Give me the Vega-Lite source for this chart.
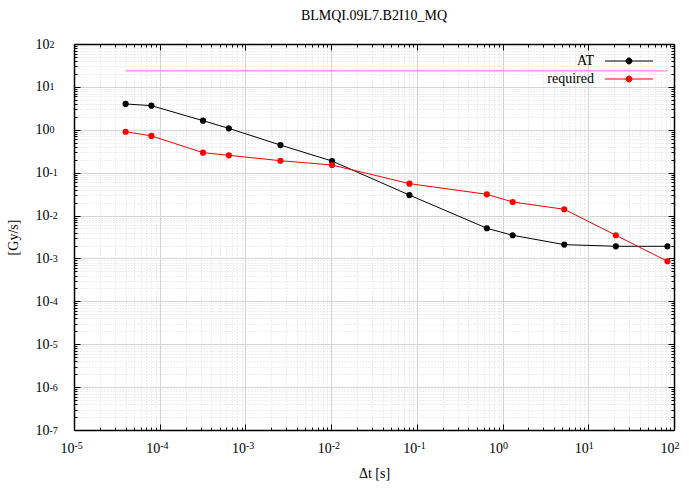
{
  "$schema": "https://vega.github.io/schema/vega-lite/v6.json",
  "width": 600,
  "height": 386,
  "autosize": "none",
  "padding": {"left": 74, "top": 44, "right": 15, "bottom": 58},
  "background": "white",
  "title": {"text": "BLMQI.09L7.B2I10_MQ", "font": "Liberation Serif", "fontSize": 14, "fontWeight": "normal", "color": "black", "offset": 14},
  "config": {
    "view": {"stroke": null},
    "axis": {
      "labelFont": "Liberation Serif", "labelFontSize": 14, "labelColor": "black",
      "titleFont": "Liberation Serif", "titleFontSize": 14, "titleFontWeight": "normal", "titleColor": "black",
      "domainColor": "black", "domainWidth": 1.5, "tickColor": "black", "tickWidth": 1,
      "labelOverlap": false, "labelFlush": false
    }
  },
  "datasets": {
    "rs": [
      {"t": 4e-5, "v": 4.0, "series": "AT"},
      {"t": 8e-5, "v": 3.65, "series": "AT"},
      {"t": 3.2e-4, "v": 1.63, "series": "AT"},
      {"t": 6.4e-4, "v": 1.08, "series": "AT"},
      {"t": 2.56e-3, "v": 0.44, "series": "AT"},
      {"t": 1.024e-2, "v": 0.187, "series": "AT"},
      {"t": 8.192e-2, "v": 0.030, "series": "AT"},
      {"t": 0.65536, "v": 5.06e-3, "series": "AT"},
      {"t": 1.31072, "v": 3.47e-3, "series": "AT"},
      {"t": 5.24288, "v": 2.1e-3, "series": "AT"},
      {"t": 20.97152, "v": 1.92e-3, "series": "AT"},
      {"t": 83.88608, "v": 1.92e-3, "series": "AT"},
      {"t": 4e-5, "v": 0.90, "series": "required"},
      {"t": 8e-5, "v": 0.72, "series": "required"},
      {"t": 3.2e-4, "v": 0.293, "series": "required"},
      {"t": 6.4e-4, "v": 0.254, "series": "required"},
      {"t": 2.56e-3, "v": 0.19, "series": "required"},
      {"t": 1.024e-2, "v": 0.151, "series": "required"},
      {"t": 8.192e-2, "v": 0.0555, "series": "required"},
      {"t": 0.65536, "v": 0.0313, "series": "required"},
      {"t": 1.31072, "v": 0.0207, "series": "required"},
      {"t": 5.24288, "v": 0.0140, "series": "required"},
      {"t": 20.97152, "v": 3.47e-3, "series": "required"},
      {"t": 83.88608, "v": 8.6e-4, "series": "required"}
    ],
    "limit": [
      {"t": 4e-5, "v": 23.5},
      {"t": 83.88608, "v": 23.5}
    ]
  },
  "resolve": {"axis": {"x": "independent", "y": "independent"}},
  "layer": [
    {
      "data": {"name": "rs"},
      "mark": {"type": "line", "strokeWidth": 1},
      "encoding": {
        "x": {
          "field": "t", "type": "quantitative",
          "scale": {"type": "log", "domain": [1e-5, 100], "nice": false},
          "axis": {
            "orient": "bottom", "title": "Δt [s]", "titlePadding": 8,
            "values": [1e-5,2e-5,3e-5,4e-5,5e-5,6e-5,7e-5,8e-5,9e-5,1e-4,2e-4,3e-4,4e-4,5e-4,6e-4,7e-4,8e-4,9e-4,1e-3,2e-3,3e-3,4e-3,5e-3,6e-3,7e-3,8e-3,9e-3,0.01,0.02,0.03,0.04,0.05,0.06,0.07,0.08,0.09,0.1,0.2,0.3,0.4,0.5,0.6,0.7,0.8,0.9,1,2,3,4,5,6,7,8,9,10,20,30,40,50,60,70,80,90,100],
            "labelExpr": "abs(log(datum.value)/LN10 - round(log(datum.value)/LN10)) < 0.001 ? '10' : ''",
            "labelAlign": "right", "labelDx": 0, "labelBaseline": "top",
            "labelPadding": 17,
            "tickSize": {"condition": {"test": "abs(log(datum.value)/LN10 - round(log(datum.value)/LN10)) < 0.001", "value": -6}, "value": -3},
            "grid": true,
            "gridColor": {"condition": {"test": "abs(log(datum.value)/LN10 - round(log(datum.value)/LN10)) < 0.001", "value": "#d4d4d4"}, "value": "#dcdcdc"},
            "gridDash": {"condition": {"test": "abs(log(datum.value)/LN10 - round(log(datum.value)/LN10)) < 0.001", "value": []}, "value": [1, 2]},
            "gridOpacity": {"condition": {"test": "datum.value < 1.01e-5 || datum.value > 99", "value": 0}, "value": 1}
          }
        },
        "y": {
          "field": "v", "type": "quantitative",
          "scale": {"type": "log", "domain": [1e-7, 100], "nice": false},
          "axis": {
            "orient": "left", "title": "[Gy/s]", "titlePadding": 15,
            "values": [1e-7,2e-7,3e-7,4e-7,5e-7,6e-7,7e-7,8e-7,9e-7,1e-6,2e-6,3e-6,4e-6,5e-6,6e-6,7e-6,8e-6,9e-6,1e-5,2e-5,3e-5,4e-5,5e-5,6e-5,7e-5,8e-5,9e-5,1e-4,2e-4,3e-4,4e-4,5e-4,6e-4,7e-4,8e-4,9e-4,1e-3,2e-3,3e-3,4e-3,5e-3,6e-3,7e-3,8e-3,9e-3,0.01,0.02,0.03,0.04,0.05,0.06,0.07,0.08,0.09,0.1,0.2,0.3,0.4,0.5,0.6,0.7,0.8,0.9,1,2,3,4,5,6,7,8,9,10,20,30,40,50,60,70,80,90,100],
            "labelExpr": "abs(log(datum.value)/LN10 - round(log(datum.value)/LN10)) < 0.001 ? '10' : ''",
            "labelAlign": "right", "labelBaseline": "middle", "labelDy": 2,
            "labelPadding": 31,
            "tickSize": {"condition": {"test": "abs(log(datum.value)/LN10 - round(log(datum.value)/LN10)) < 0.001", "value": -6}, "value": -3},
            "grid": true,
            "gridColor": {"condition": {"test": "abs(log(datum.value)/LN10 - round(log(datum.value)/LN10)) < 0.001", "value": "#d4d4d4"}, "value": "#dcdcdc"},
            "gridDash": {"condition": {"test": "abs(log(datum.value)/LN10 - round(log(datum.value)/LN10)) < 0.001", "value": []}, "value": [1, 2]},
            "gridOpacity": {"condition": {"test": "datum.value < 1.01e-7 || datum.value > 99", "value": 0}, "value": 1}
          }
        },
        "color": {
          "field": "series", "type": "nominal",
          "scale": {"domain": ["AT", "required"], "range": ["#000000", "#ff0000"]},
          "legend": {
            "orient": "none", "legendX": 509, "legendY": 10, "title": null, "padding": 0,
            "labelFont": "Liberation Serif", "labelFontSize": 14, "labelColor": "black",
            "labelAlign": "right", "labelOffset": -42, "rowPadding": 4,
            "symbolType": "M-8,0H8M1,0A1,1 0 1,1 -1,0A1,1 0 1,1 1,0Z",
            "symbolSize": 36, "symbolOffset": 39, "symbolStrokeWidth": 1,
            "encode": {"symbols": {"update": {"fill": {"scale": "color", "field": "value"}, "stroke": {"scale": "color", "field": "value"}, "opacity": {"value": 1}}}}
          }
        }
      }
    },
    {
      "data": {"name": "limit"},
      "mark": {"type": "line", "strokeWidth": 1.2, "color": "#ff80ff"},
      "encoding": {
        "x": {
          "field": "t", "type": "quantitative",
          "axis": {
            "orient": "top", "title": null, "labels": false, "grid": false,
            "values": [1e-5,2e-5,3e-5,4e-5,5e-5,6e-5,7e-5,8e-5,9e-5,1e-4,2e-4,3e-4,4e-4,5e-4,6e-4,7e-4,8e-4,9e-4,1e-3,2e-3,3e-3,4e-3,5e-3,6e-3,7e-3,8e-3,9e-3,0.01,0.02,0.03,0.04,0.05,0.06,0.07,0.08,0.09,0.1,0.2,0.3,0.4,0.5,0.6,0.7,0.8,0.9,1,2,3,4,5,6,7,8,9,10,20,30,40,50,60,70,80,90,100],
            "tickSize": {"condition": {"test": "abs(log(datum.value)/LN10 - round(log(datum.value)/LN10)) < 0.001", "value": -6}, "value": -3}
          }
        },
        "y": {
          "field": "v", "type": "quantitative",
          "axis": {
            "orient": "right", "title": null, "labels": false, "grid": false,
            "values": [1e-7,2e-7,3e-7,4e-7,5e-7,6e-7,7e-7,8e-7,9e-7,1e-6,2e-6,3e-6,4e-6,5e-6,6e-6,7e-6,8e-6,9e-6,1e-5,2e-5,3e-5,4e-5,5e-5,6e-5,7e-5,8e-5,9e-5,1e-4,2e-4,3e-4,4e-4,5e-4,6e-4,7e-4,8e-4,9e-4,1e-3,2e-3,3e-3,4e-3,5e-3,6e-3,7e-3,8e-3,9e-3,0.01,0.02,0.03,0.04,0.05,0.06,0.07,0.08,0.09,0.1,0.2,0.3,0.4,0.5,0.6,0.7,0.8,0.9,1,2,3,4,5,6,7,8,9,10,20,30,40,50,60,70,80,90,100],
            "tickSize": {"condition": {"test": "abs(log(datum.value)/LN10 - round(log(datum.value)/LN10)) < 0.001", "value": -6}, "value": -3}
          }
        }
      }
    },
    {
      "data": {"name": "rs"},
      "mark": {"type": "point", "filled": true, "size": 38, "opacity": 1},
      "encoding": {
        "x": {
          "field": "t", "type": "quantitative",
          "axis": {
            "orient": "bottom", "title": null, "domain": false, "ticks": false, "grid": false,
            "values": [1e-5,1e-4,1e-3,0.01,0.1,1,10,100],
            "labelExpr": "toString(round(log(datum.value)/LN10))",
            "labelAlign": "left", "labelDx": 1, "labelBaseline": "top", "labelFontSize": 10,
            "labelPadding": 10
          }
        },
        "y": {
          "field": "v", "type": "quantitative",
          "axis": {
            "orient": "left", "title": null, "domain": false, "ticks": false, "grid": false,
            "values": [1e-7,1e-6,1e-5,1e-4,1e-3,0.01,0.1,1,10,100],
            "labelExpr": "toString(round(log(datum.value)/LN10))",
            "labelAlign": "left", "labelBaseline": "middle", "labelDy": -4, "labelFontSize": 10,
            "labelPadding": 25
          }
        },
        "color": {
          "field": "series", "type": "nominal",
          "legend": {
            "orient": "none", "legendX": 509, "legendY": 10, "title": null, "padding": 0,
            "labelFont": "Liberation Serif", "labelFontSize": 14, "labelColor": "black",
            "labelAlign": "right", "labelOffset": -42, "rowPadding": 4,
            "symbolType": "M-8,0H8M1,0A1,1 0 1,1 -1,0A1,1 0 1,1 1,0Z",
            "symbolSize": 36, "symbolOffset": 39, "symbolStrokeWidth": 1,
            "encode": {"symbols": {"update": {"fill": {"scale": "color", "field": "value"}, "stroke": {"scale": "color", "field": "value"}, "opacity": {"value": 1}}}}
          }
        }
      }
    }
  ]
}
